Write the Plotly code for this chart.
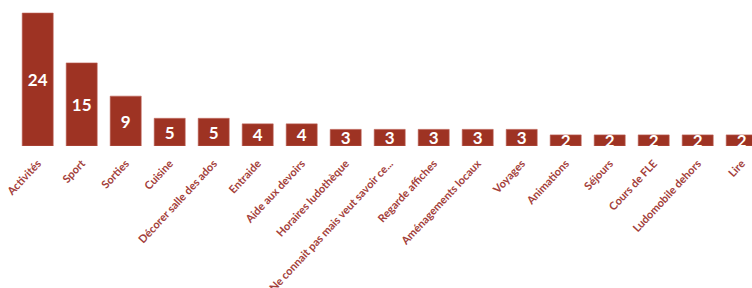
import plotly.graph_objects as go

categories = ["Activités", "Sport", "Sorties", "Cuisine", "Décorer salle des ados",
              "Entraide", "Aide aux devoirs", "Horaires ludothèque",
              "Ne connait pas mais veut savoir ce...", "Regarde affiches",
              "Aménagements locaux", "Voyages", "Animations", "Séjours",
              "Cours de FLE", "Ludomobile dehors", "Lire"]
values = [24, 15, 9, 5, 5, 4, 4, 3, 3, 3, 3, 3, 2, 2, 2, 2, 2]

BAR = "#9E3323"
LABEL = "#A3403A"

fig = go.Figure()
fig.add_trace(go.Bar(
    x=categories, y=values,
    marker=dict(color=BAR, line=dict(color="#C0645A", width=0.6)),
    width=0.705,
    text=[str(v) for v in values],
    textposition="inside",
    insidetextanchor="middle",
    textangle=0,
    insidetextfont=dict(family="Lato", size=17, color="white", weight="bold"),
    cliponaxis=False,
    hoverinfo="skip",
))

px_per_cat = 44.0
x0_px = 37.7
fig.update_layout(
    width=752, height=288,
    margin=dict(l=0, r=0, t=0, b=142),
    paper_bgcolor="white", plot_bgcolor="white",
    showlegend=False,
    uniformtext=dict(minsize=17, mode="show"),
    xaxis=dict(
        range=[-x0_px / px_per_cat, (752 - x0_px) / px_per_cat],
        tickangle=-47,
        tickfont=dict(family="Lato", size=11, color=LABEL, weight="bold"),
        showgrid=False, zeroline=False, showline=False, ticks="",
        ticklabelstandoff=8,
        automargin=False,
    ),
    yaxis=dict(range=[0, 146 / 5.54], visible=False, showgrid=False),
)

fig.write_html("out.html", config={"displayModeBar": False},
               post_script="document.body.style.margin='0';")
